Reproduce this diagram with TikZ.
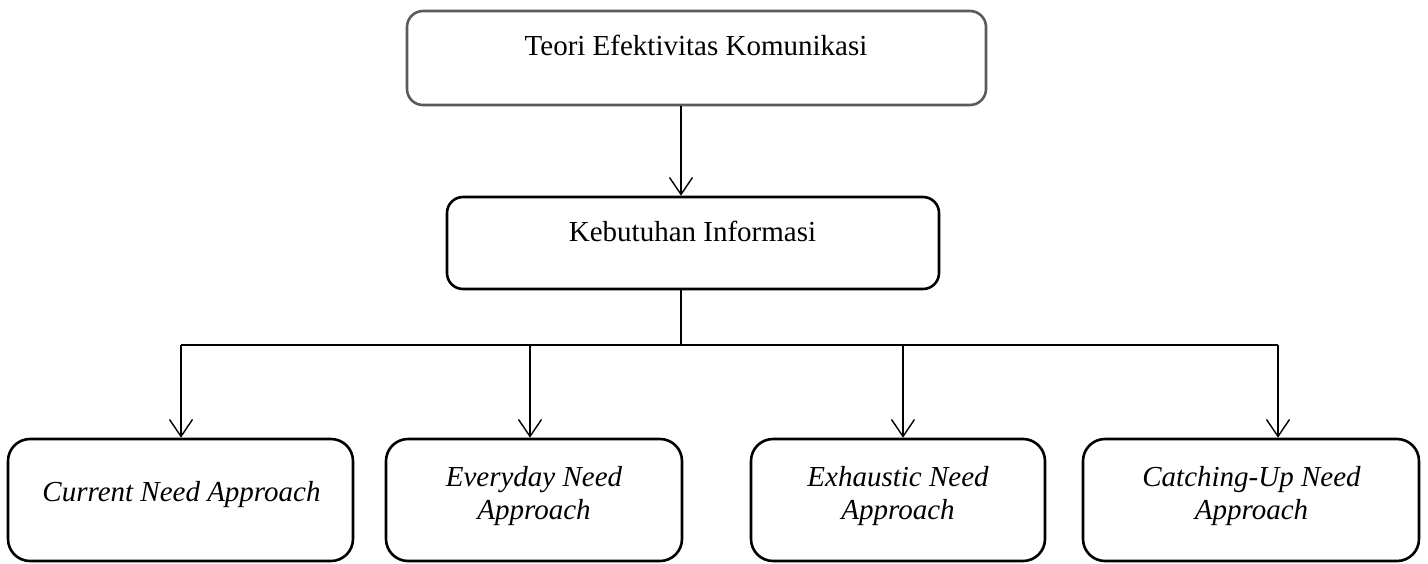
\documentclass[tikz,border=0pt]{standalone}
\usepackage{fontspec}
\setmainfont{Liberation Serif}
\usetikzlibrary{arrows.meta}
\definecolor{boxgray}{HTML}{5A5A5A}
\tikzset{
  box/.style={draw, line width=2.6pt, rounded corners=16pt, inner sep=0pt},
  leaf/.style={box, rounded corners=22pt, minimum height=122pt},
  link/.style={line width=1.4pt},
  drop/.style={link, -{Straight Barb[length=17pt,width=23pt]}},
  txt/.style={font=\fontsize{29}{33}\selectfont, align=center, inner sep=0pt}
}
\begin{document}
\begin{tikzpicture}[x=1pt,y=-1pt]
        \useasboundingbox (0,0) rectangle (1428,563);

        % Boxes
        \node[box, draw=boxgray, minimum width=579pt, minimum height=94pt] (teori) at (696.5, 58) {};
        \node[box, minimum width=492pt, minimum height=92pt] (keb) at (693, 243) {};
        \node[leaf, minimum width=345pt] (b1) at (180.5, 500) {};
        \node[leaf, minimum width=296pt] (b2) at (534,   500) {};
        \node[leaf, minimum width=294pt] (b3) at (898,   500) {};
        \node[leaf, minimum width=336pt] (b4) at (1251,  500) {};

        % Labels
        \node[txt, anchor=base] (tteori) at (696,   55) {Teori Efektivitas Komunikasi};
        \node[txt, anchor=base] (tkeb)   at (692.5, 241) {Kebutuhan Informasi};
        \node[txt, anchor=base] (tb1)    at (181.5, 501) {\itshape Current Need Approach};
        \node[txt]              (tb2)    at (534,   496) {\itshape Everyday Need\\\itshape Approach};
        \node[txt]              (tb3)    at (898,   496) {\itshape Exhaustic Need\\\itshape Approach};
        \node[txt]              (tb4)    at (1251.5,496) {\itshape Catching-Up Need\\\itshape Approach};

        % Connectors
        \coordinate (spine) at (681, 345);
        \coordinate (d1)    at (181, 345);
        \coordinate (d2)    at (530, 345);
        \coordinate (d3)    at (903, 345);
        \coordinate (d4)    at (1278,345);

        \draw[drop] (teori.south -| spine) -- (keb.north -| spine);
        \draw[link] (keb.south -| spine) -- (spine);
        \draw[link] (d1) -- (d4);
        \foreach \i in {1,...,4}
          \draw[drop] (d\i) -- (d\i |- b\i.north);
\end{tikzpicture}
\end{document}
